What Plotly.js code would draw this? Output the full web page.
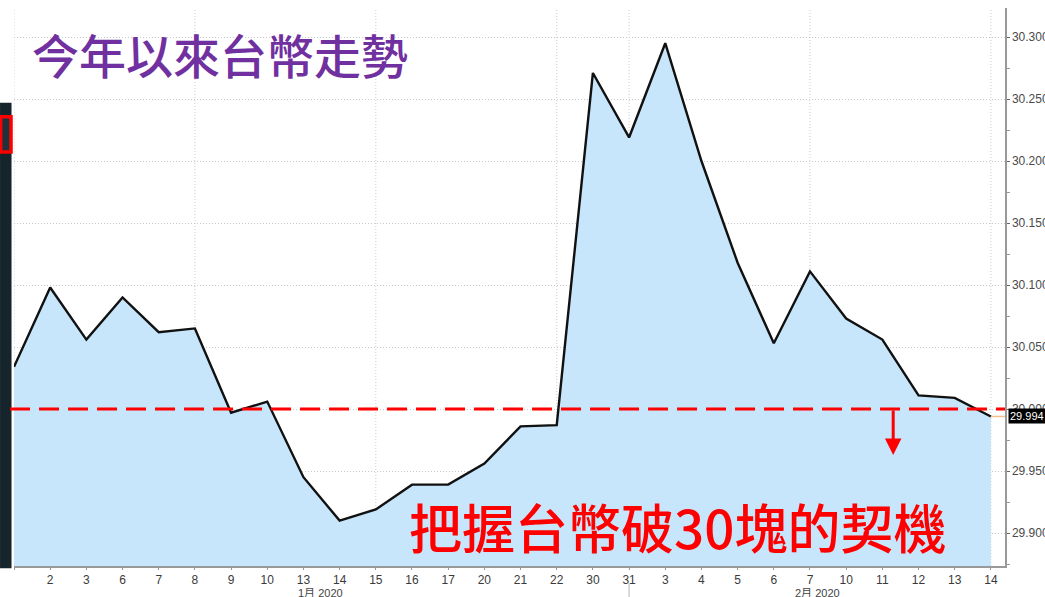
<!DOCTYPE html>
<html>
<head>
<meta charset="utf-8">
<script src="https://cdn.plot.ly/plotly-3.0.1.min.js"></script>
<style>
html,body{margin:0;padding:0;background:#fff;}
#chart{width:1045px;height:597px;}
</style>
</head>
<body>
<div id="chart"></div>
<script>
// Trading days (first point has no label)
var dayLabels = ['', '2', '3', '6', '7', '8', '9', '10', '13', '14', '15', '16', '17', '20', '21', '22', '30', '31', '3', '4', '5', '6', '7', '10', '11', '12', '13', '14'];
// USD/TWD closing values
var twdValues = [30.034, 30.098, 30.056, 30.090, 30.062, 30.065, 29.997, 30.006, 29.945, 29.910, 29.919, 29.939, 29.939, 29.956, 29.986, 29.987, 30.271, 30.219, 30.295, 30.200, 30.118, 30.053, 30.111, 30.073, 30.056, 30.011, 30.009, 29.994];
// Indices that carry a vertical dotted gridline
var gridIdx = [0, 5, 10, 15, 17, 22, 27];
// Month labels and the category position they centre on
var monthLabels = ['1月 2020', '2月 2020'];
var monthPos = [8.46, 22.2];
var monthDividerIdx = 17;
var thresholdValue = 30.0;
var arrowIdx = 24.3;
var arrowTip = 29.963;
var titleText = '今年以來台幣走勢';
var noteText = '把握台幣破30塊的契機';

var xIdx = dayLabels.map(function (_, i) { return i; });
var last = twdValues[twdValues.length - 1];

var trace = {
  x: xIdx,
  y: twdValues,
  type: 'scatter',
  mode: 'lines',
  fill: 'tozeroy',
  fillcolor: 'rgb(199,229,251)',
  line: {color: '#111', width: 2.4},
  hoverinfo: 'skip'
};

var shapes = [];
gridIdx.forEach(function (g) {
  shapes.push({type: 'line', xref: 'x', yref: 'paper', x0: g, x1: g, y0: 0, y1: 1,
    line: {color: '#cccccc', width: 1, dash: '1px,2px'}, layer: 'below'});
});
shapes.push({type: 'line', xref: 'x', yref: 'paper', x0: monthDividerIdx, x1: monthDividerIdx, y0: -0.03, y1: -0.06,
  line: {color: '#cccccc', width: 1.5}});
// left dark strip + red box
shapes.push({type: 'rect', xref: 'paper', yref: 'paper', x0: -0.0141, x1: -0.0025, y0: -0.004, y1: 0.83,
  fillcolor: '#16242c', line: {width: 0}});
shapes.push({type: 'rect', xref: 'paper', yref: 'paper', x0: -0.0135, x1: -0.003, y0: 0.742, y1: 0.805,
  fillcolor: '#1f323b', line: {color: '#ff0000', width: 3.5}});
// last value connector
shapes.push({type: 'line', xref: 'x', yref: 'y', x0: xIdx[xIdx.length - 1], x1: 27.39, y0: last, y1: last,
  line: {color: '#f6c08c', width: 1.5}});
// threshold dashed line
shapes.push({type: 'line', xref: 'paper', yref: 'y', x0: -0.004, x1: 1.0, y0: thresholdValue, y1: thresholdValue,
  line: {color: '#ff0000', width: 3, dash: '20px,9px'}});

var annotations = [];
monthLabels.forEach(function (m, i) {
  annotations.push({text: m, xref: 'x', yref: 'paper', x: monthPos[i], y: -0.048, showarrow: false,
    xanchor: 'center', yanchor: 'middle', font: {family: 'Liberation Sans, Noto Sans CJK TC', size: 11, color: '#444'}});
});
annotations.push({text: titleText, xref: 'paper', yref: 'paper', x: 0.0165, y: 0.918, xanchor: 'left', yanchor: 'middle',
  showarrow: false, font: {family: 'Noto Sans CJK TC', size: 47, weight: 500, color: '#7030a0'}});
annotations.push({text: noteText, xref: 'paper', yref: 'paper', x: 0.397, y: 0.072, xanchor: 'left', yanchor: 'middle',
  showarrow: false, font: {family: 'Noto Sans CJK TC', size: 53, weight: 500, color: '#ff0000'}});
annotations.push({text: '', xref: 'x', yref: 'y', x: arrowIdx, y: arrowTip, axref: 'x', ayref: 'y', ax: arrowIdx, ay: thresholdValue,
  showarrow: true, arrowhead: 2, arrowsize: 1.1, arrowwidth: 3, arrowcolor: '#ff0000', standoff: 0, startstandoff: 0});
annotations.push({text: last.toFixed(3), xref: 'paper', yref: 'y', x: 1.003, y: last, xanchor: 'left', yanchor: 'middle',
  showarrow: false, bgcolor: '#000', borderpad: 1, font: {family: 'Liberation Sans', size: 11, color: '#fff'}});

var layout = {
  width: 1045,
  height: 597,
  margin: {l: 14, r: 40, t: 8, b: 31},
  paper_bgcolor: '#fff',
  plot_bgcolor: '#fff',
  showlegend: false,
  xaxis: {
    range: [0, 27.39],
    tickmode: 'array',
    tickvals: xIdx,
    ticktext: dayLabels,
    showgrid: false,
    zeroline: false,
    showline: true,
    linecolor: '#999',
    linewidth: 1.5,
    ticks: 'outside',
    ticklen: 2,
    tickcolor: '#999',
    tickfont: {family: 'Liberation Sans', size: 12, color: '#3a3a3a'}
  },
  yaxis: {
    side: 'right',
    range: [29.8734, 30.3234],
    tickmode: 'linear',
    tick0: 29.9,
    dtick: 0.05,
    tickformat: '.3f',
    showgrid: true,
    gridcolor: '#c8c8c8',
    griddash: '1px,2px',
    gridwidth: 1,
    zeroline: false,
    showline: true,
    linecolor: '#999',
    linewidth: 1.5,
    ticks: 'outside',
    ticklen: 3,
    tickcolor: '#666',
    minor: {dtick: 0.025, ticks: 'outside', ticklen: 3, tickcolor: '#999', showgrid: false},
    tickfont: {family: 'Liberation Sans', size: 12, color: '#4a4a4a'}
  },
  shapes: shapes,
  annotations: annotations
};

Plotly.newPlot('chart', [trace], layout, {displayModeBar: false, staticPlot: true});
</script>
</body>
</html>
